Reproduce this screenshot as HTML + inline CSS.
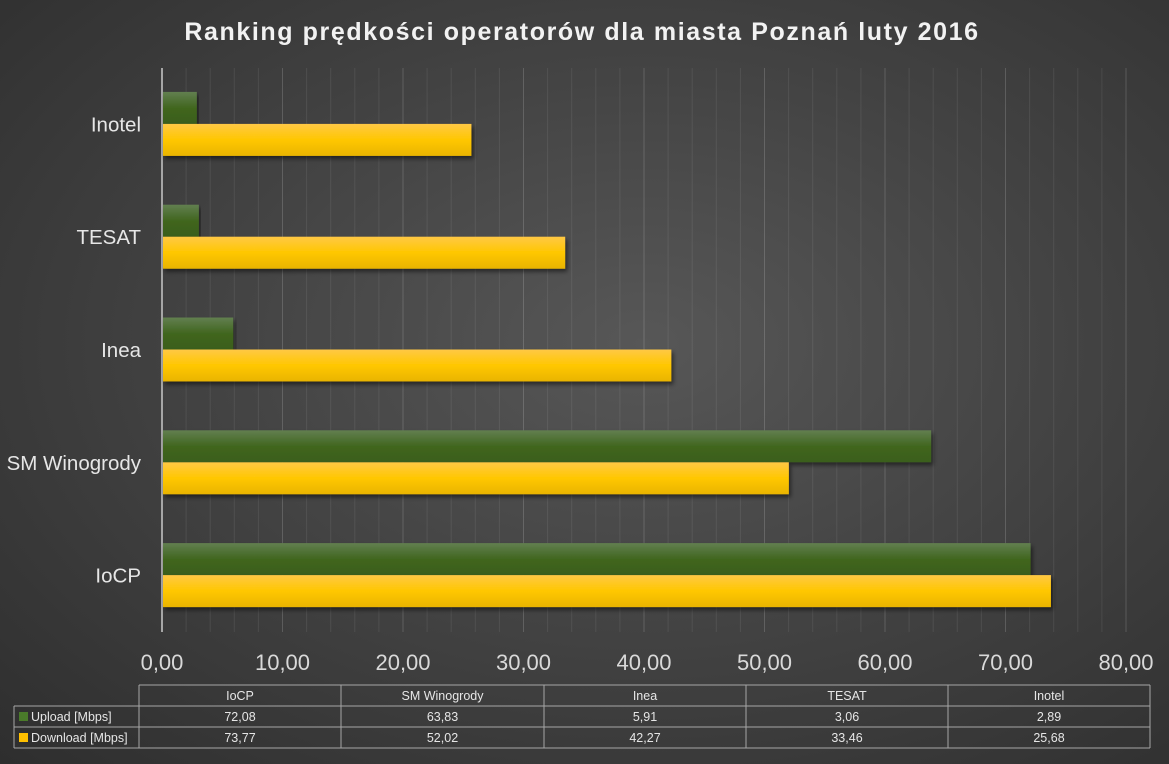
<!DOCTYPE html>
<html><head><meta charset="utf-8"><style>
body{margin:0;width:1169px;height:764px;overflow:hidden;font-family:"Liberation Sans",sans-serif;}
#bg{position:absolute;left:0;top:0;width:1169px;height:764px;background:radial-gradient(ellipse at 55% 45%,#575757 0%,#444 45%,#2e2e2e 100%);}
</style></head><body>
<div id="bg"></div>
<svg id="chart" width="1169" height="764" style="position:absolute;left:0;top:0">
<defs>
<linearGradient id="gU" x1="0" y1="0" x2="0" y2="1"><stop offset="0" stop-color="#627f50"/><stop offset="0.5" stop-color="#41661f"/><stop offset="1" stop-color="#3a5e1c"/></linearGradient>
<linearGradient id="gD" x1="0" y1="0" x2="0" y2="1"><stop offset="0" stop-color="#ffc845"/><stop offset="0.5" stop-color="#ffc700"/><stop offset="1" stop-color="#e9b400"/></linearGradient>
<filter id="sh" x="-5%" y="-20%" width="110%" height="150%"><feDropShadow dx="2" dy="3" stdDeviation="2" flood-color="#000" flood-opacity="0.5"/></filter>
</defs>
<text x="582" y="40" text-anchor="middle" fill="#f2f2f2" font-size="25" font-weight="bold" letter-spacing="1.6">Ranking prędkości operatorów dla miasta Poznań luty 2016</text>
<g id="grid"></g><g id="bars"></g><g id="labels"></g><g id="table"></g>
</svg>
<script>
const categories=["IoCP","SM Winogrody","Inea","TESAT","Inotel"];
const upload=[72.08,63.83,5.91,3.06,2.89];
const download=[73.77,52.02,42.27,33.46,25.68];
const uploadLabels=["72,08","63,83","5,91","3,06","2,89"];
const downloadLabels=["73,77","52,02","42,27","33,46","25,68"];
const xTicks=[0,10,20,30,40,50,60,70,80];
const xTickLabels=["0,00","10,00","20,00","30,00","40,00","50,00","60,00","70,00","80,00"];
const NS="http://www.w3.org/2000/svg";
const x0=162,x1=1126,yTop=68,yBot=632,xMax=80;
const X=v=>x0+v/xMax*(x1-x0);
const band=(yBot-yTop)/categories.length;
const Yc=i=>yBot-band*(i+0.5);
function mk(tag,attrs,parent){const e=document.createElementNS(NS,tag);for(const k in attrs)e.setAttribute(k,attrs[k]);parent.appendChild(e);return e;}
const grid=document.getElementById('grid'),bars=document.getElementById('bars'),labels=document.getElementById('labels'),table=document.getElementById('table');
for(let v=2;v<=xMax;v+=2){
 const l=mk('line',{x1:X(v),x2:X(v),y1:yTop,y2:yBot,stroke:'#ffffff','stroke-opacity':v%10==0?0.16:0.08,'stroke-width':1},grid);
 
 
}
const ax=mk('line',{x1:x0,x2:x0,y1:yTop,y2:yBot,stroke:'#a6a6a6','stroke-width':2},grid);


xTicks.forEach((v,i)=>{
 const t=mk('text',{x:X(v),y:670,'text-anchor':'middle',fill:'#d9d9d9','font-size':22},labels);
 t.textContent=xTickLabels[i];
 
 
});
const bh=32;
categories.forEach((c,i)=>{
 const yc=Yc(i);
 const bu=mk('rect',{x:x0+1,y:yc-bh-0.5,width:X(upload[i])-x0-1,height:bh,fill:'url(#gU)',filter:'url(#sh)'},bars);
 
 
 const bd=mk('rect',{x:x0+1,y:yc+0.5-1,width:X(download[i])-x0-1,height:bh,fill:'url(#gD)',filter:'url(#sh)'},bars);
 
 
 const t=mk('text',{x:141,y:yc+7,'text-anchor':'end',fill:'#e6e6e6','font-size':20.5},labels);
 t.textContent=c;
 
 
});
const cols=[139,341,544,746,948,1150];
const rows=[685,706,727,748];
const st='#a6a6a6';
function ln(a,b,c,d){const l=mk('line',{x1:a,y1:b,x2:c,y2:d,stroke:st,'stroke-width':1},table);}
ln(cols[0],rows[0],cols[5],rows[0]);
ln(14,rows[1],cols[5],rows[1]);ln(14,rows[2],cols[5],rows[2]);ln(14,rows[3],cols[5],rows[3]);
ln(14,rows[1],14,rows[3]);
cols.forEach(cx=>ln(cx,rows[0],cx,rows[3]));
const tx=(x,y,s,anchor,name)=>{const t=mk('text',{x:x,y:y,'text-anchor':anchor,fill:'#e6e6e6','font-size':12.5},table);t.textContent=s;return t;};
categories.forEach((c,i)=>{
 const cx=(cols[i]+cols[i+1])/2;
 tx(cx,rows[0]+15,c,'middle','table-header');
 tx(cx,rows[1]+15,uploadLabels[i],'middle','table-upload-value');
 tx(cx,rows[2]+15,downloadLabels[i],'middle','table-download-value');
});
const k1=mk('rect',{x:19,y:rows[1]+6,width:9,height:9,fill:'#4a7a2a'},table);


const k2=mk('rect',{x:19,y:rows[2]+6,width:9,height:9,fill:'#ffc000'},table);


tx(31,rows[1]+15,'Upload [Mbps]','start','legend-entry-upload');
tx(31,rows[2]+15,'Download [Mbps]','start','legend-entry-download');
</script>
</body></html>
